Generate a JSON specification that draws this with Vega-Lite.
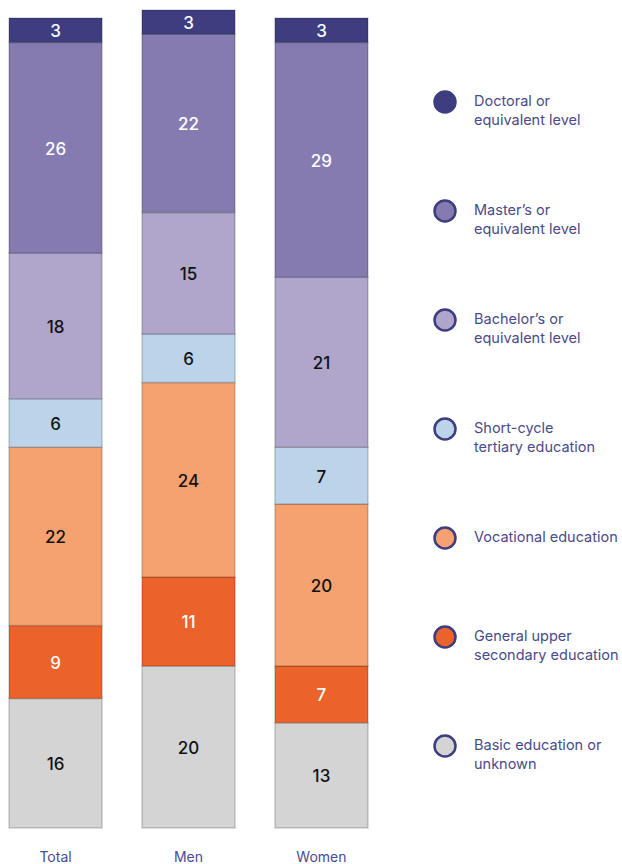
{
  "$schema": "https://vega.github.io/schema/vega-lite/v6.json",
  "width": 359,
  "height": 818,
  "autosize": "none",
  "padding": {"left": 9, "top": 10, "right": 254, "bottom": 36},
  "background": "white",
  "config": {"view": {"stroke": null}, "font": "Inter", "style": {"guide-label": {"lineHeight": 19}}},
  "data": {
    "values": [
      {"group": "Total", "cat": "Basic education or|unknown", "order": 1, "value": 16},
      {"group": "Total", "cat": "General upper|secondary education", "order": 2, "value": 9},
      {"group": "Total", "cat": "Vocational education", "order": 3, "value": 22},
      {"group": "Total", "cat": "Short-cycle|tertiary education", "order": 4, "value": 6},
      {"group": "Total", "cat": "Bachelor’s or|equivalent level", "order": 5, "value": 18},
      {"group": "Total", "cat": "Master’s or|equivalent level", "order": 6, "value": 26},
      {"group": "Total", "cat": "Doctoral or|equivalent level", "order": 7, "value": 3},
      {"group": "Men", "cat": "Basic education or|unknown", "order": 1, "value": 20},
      {"group": "Men", "cat": "General upper|secondary education", "order": 2, "value": 11},
      {"group": "Men", "cat": "Vocational education", "order": 3, "value": 24},
      {"group": "Men", "cat": "Short-cycle|tertiary education", "order": 4, "value": 6},
      {"group": "Men", "cat": "Bachelor’s or|equivalent level", "order": 5, "value": 15},
      {"group": "Men", "cat": "Master’s or|equivalent level", "order": 6, "value": 22},
      {"group": "Men", "cat": "Doctoral or|equivalent level", "order": 7, "value": 3},
      {"group": "Women", "cat": "Basic education or|unknown", "order": 1, "value": 13},
      {"group": "Women", "cat": "General upper|secondary education", "order": 2, "value": 7},
      {"group": "Women", "cat": "Vocational education", "order": 3, "value": 20},
      {"group": "Women", "cat": "Short-cycle|tertiary education", "order": 4, "value": 7},
      {"group": "Women", "cat": "Bachelor’s or|equivalent level", "order": 5, "value": 21},
      {"group": "Women", "cat": "Master’s or|equivalent level", "order": 6, "value": 29},
      {"group": "Women", "cat": "Doctoral or|equivalent level", "order": 7, "value": 3}
    ]
  },
  "transform": [
    {"stack": "value", "groupby": ["group"], "sort": [{"field": "order", "order": "ascending"}], "as": ["y0", "y1"]},
    {"calculate": "(datum.y0 + datum.y1) / 2", "as": "mid"}
  ],
  "encoding": {
    "x": {
      "field": "group", "type": "nominal", "sort": ["Total", "Men", "Women"],
      "scale": {"paddingInner": 0.3, "paddingOuter": 0},
      "axis": {"title": null, "domain": false, "ticks": false, "labelAngle": 0, "labelPadding": 22, "labelFontSize": 14, "labelColor": "#4a4a96", "labelFont": "Inter"}
    }
  },
  "layer": [
    {
      "mark": {"type": "bar", "stroke": "#000000", "strokeOpacity": 0.18, "strokeWidth": 1.5},
      "encoding": {
        "y": {"field": "y0", "type": "quantitative", "scale": {"domain": [0, 101], "nice": false, "zero": true}, "axis": null},
        "y2": {"field": "y1"},
        "color": {
          "field": "cat", "type": "nominal",
          "scale": {
            "domain": ["Doctoral or|equivalent level", "Master’s or|equivalent level", "Bachelor’s or|equivalent level", "Short-cycle|tertiary education", "Vocational education", "General upper|secondary education", "Basic education or|unknown"],
            "range": ["#3d3d80", "#857bb0", "#b0a6cc", "#bcd4ea", "#f5a170", "#ec622b", "#d4d4d4"]
          },
          "legend": {
            "title": null, "orient": "none", "legendX": 424, "legendY": 80,
            "symbolType": "circle", "symbolSize": 440, "symbolStrokeColor": "#3d3d80", "symbolStrokeWidth": 2.5,
            "labelExpr": "split(datum.label, '|')", "labelFontSize": 14.5, "labelColor": "#4a4a8c", "labelFont": "Inter",
            "labelLimit": 300, "labelOffset": 17, "rowPadding": 67, "padding": 0
          }
        }
      }
    },
    {
      "mark": {"type": "text", "fontSize": 17, "fontWeight": 500, "font": "Inter", "dy": 2},
      "encoding": {
        "y": {"field": "mid", "type": "quantitative"},
        "text": {"field": "value", "type": "quantitative"},
        "color": {
          "condition": {"test": "datum.order == 7 || datum.order == 6 || datum.order == 2", "value": "#ffffff"},
          "value": "#111111"
        }
      }
    }
  ]
}
